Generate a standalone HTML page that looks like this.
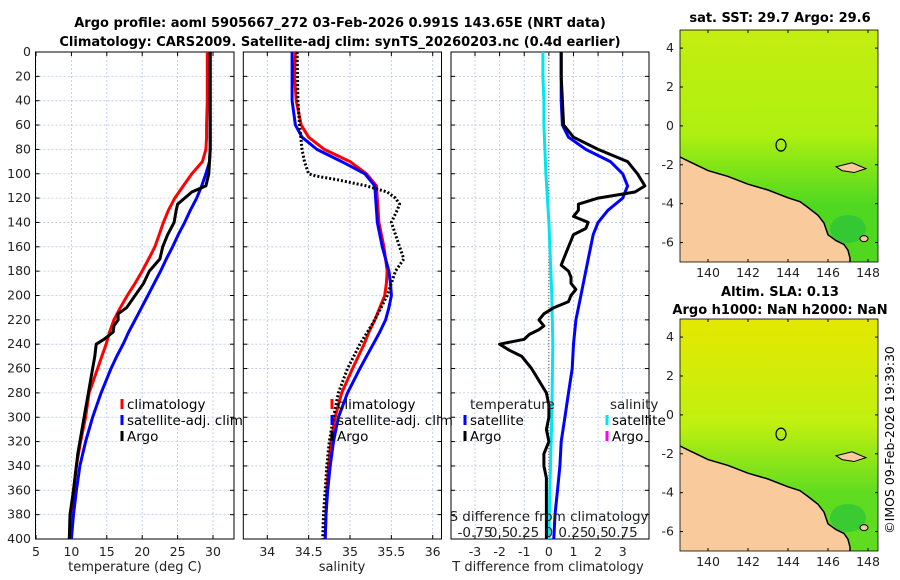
<!DOCTYPE html>
<html><head><meta charset="utf-8"><style>
html,body{margin:0;padding:0;background:#fff}
svg{display:block;font-family:"DejaVu Sans","Liberation Sans",sans-serif}
</style></head><body>
<svg id="c" width="900" height="580" viewBox="0 0 900 580" xmlns="http://www.w3.org/2000/svg">
<text x="340" y="27" font-size="13" font-weight="bold" text-anchor="middle">Argo profile: aoml 5905667_272 03-Feb-2026 0.991S 143.65E (NRT data)</text>
<text x="340" y="46" font-size="13" font-weight="bold" text-anchor="middle">Climatology: CARS2009. Satellite-adj clim: synTS_20260203.nc (0.4d earlier)</text>
<text x="780" y="22" font-size="13" font-weight="bold" text-anchor="middle">sat. SST: 29.7 Argo: 29.6</text>
<text x="780" y="296" font-size="13" font-weight="bold" text-anchor="middle">Altim. SLA: 0.13</text>
<text x="780" y="314" font-size="13" font-weight="bold" text-anchor="middle">Argo h1000: NaN h2000: NaN</text>
<text transform="translate(894,440) rotate(-90)" font-size="12.5" text-anchor="middle">©IMOS 09-Feb-2026 19:39:30</text>
</svg>
<script>
// ---- data ----
const depths = [0,20,40,60,70,80,90,100,110,120,130,140,150,160,170,180,190,200,210,220,230,240,250,260,280,300,320,340,360,380,400];
const tempClim = [29.2,29.2,29.2,29.1,29.1,29.0,28.5,27.0,25.8,24.6,23.7,23.0,22.4,21.8,20.9,20.0,19.0,17.9,16.9,16.0,15.4,14.9,14.3,13.7,12.5,12.0,11.3,10.7,10.3,10.0,9.7];
const tempSat = [29.6,29.6,29.6,29.6,29.6,29.6,29.5,29.0,28.4,27.7,26.8,26.0,25.1,24.3,23.4,22.6,21.7,20.8,19.9,19.0,18.1,17.3,16.4,15.6,14.2,13.0,12.0,11.2,10.7,10.3,10.0];
const argoDepths = [0,20,40,60,80,100,110,115,120,125,130,140,150,160,170,180,190,200,210,215,220,225,230,236,240,250,260,280,300,320,330,340,360,380,400];
const tempArgo = [29.6,29.6,29.6,29.6,29.6,29.4,29.0,27.0,26.0,25.0,24.8,24.5,23.6,22.9,22.5,21.0,20.2,19.0,17.8,16.6,16.6,16.0,15.9,14.6,13.5,13.3,13.0,12.4,11.8,11.2,10.9,10.7,10.3,9.8,9.7];
const salClim = [34.34,34.33,34.35,34.41,34.5,34.69,35.0,35.2,35.32,35.33,35.34,35.35,35.38,35.41,35.43,35.45,35.44,35.42,35.36,35.3,35.23,35.17,35.1,35.03,34.9,34.82,34.77,34.74,34.72,34.71,34.70];
const salSat = [34.3,34.3,34.3,34.34,34.42,34.6,34.9,35.18,35.3,35.31,35.32,35.33,35.36,35.39,35.43,35.47,35.49,35.5,35.47,35.43,35.36,35.28,35.2,35.12,34.97,34.86,34.8,34.76,34.73,34.71,34.7];
const salArgoDepths = [0,40,60,80,90,100,102,105,110,115,120,125,130,140,150,160,170,180,200,220,240,260,280,300,320,340,360,380,400];
const salArgo = [34.36,34.37,34.39,34.42,34.45,34.5,34.6,34.85,35.2,35.45,35.55,35.6,35.57,35.5,35.55,35.6,35.65,35.55,35.45,35.3,35.12,34.97,34.86,34.8,34.75,34.72,34.7,34.68,34.67];
const dTArgoDepths = [0,20,40,60,70,80,90,100,110,115,120,125,130,135,140,145,150,160,170,175,180,185,190,195,200,205,210,215,220,225,228,232,236,240,245,250,255,260,270,280,290,300,310,320,330,340,350,360,380,400];
const dTArgo = [0.5,0.5,0.55,0.6,1.0,2.0,3.2,3.6,3.9,3.5,2.0,1.2,1.2,1.0,1.6,1.5,1.0,0.8,0.6,0.5,0.8,0.9,0.9,1.1,0.9,0.8,0.2,-0.2,-0.4,-0.2,-0.4,-0.8,-1.0,-2.0,-1.6,-1.1,-0.9,-0.7,-0.4,-0.1,0.0,0.0,-0.1,0.0,-0.2,-0.2,-0.1,-0.1,-0.1,-0.1];
const dTDepths = [0,40,60,70,80,90,100,110,120,130,140,150,160,170,180,200,220,240,260,280,300,320,340,360,380,400];
const dTSat = [0.5,0.5,0.55,0.8,1.5,2.5,3.0,3.2,3.0,2.4,2.0,1.8,1.7,1.6,1.5,1.3,1.1,1.0,0.95,0.8,0.65,0.5,0.45,0.35,0.25,0.2];
const dSDepths = [0,20,40,60,100,140,200,240,300,360,400];
const dSSat = [-0.06,-0.06,-0.05,-0.05,-0.03,0.0,0.03,0.04,0.03,0.01,0.0];
const depthTicks = [0,20,40,60,80,100,120,140,160,180,200,220,240,260,280,300,320,340,360,380,400];
const tempTicks = [5,10,15,20,25,30];
const salTicks = [34,34.5,35,35.5,36];
const dTTicks = [-3,-2,-1,0,1,2,3];
const dSTicks = [-0.75,-0.5,-0.25,0,0.25,0.5,0.75];
const dSTickLabels = ["-0.75","0.5","0.25","0","0.25","0.5","0.75"];
const latTicks = [4,2,0,-2,-4,-6];
const lonTicks = [140,142,144,146,148];
const coastLon = [138.6,139,140,141,142,143,144,144.6,145,145.5,145.8,146,146.4,146.8,147,147.1,147.1];
const coastLat = [-1.6,-1.8,-2.3,-2.6,-3.0,-3.3,-3.7,-3.9,-4.2,-4.6,-5.0,-5.6,-5.9,-6.1,-6.4,-6.8,-7.0];

// ---- helpers ----
const svg = document.getElementById('c');
const NS = 'http://www.w3.org/2000/svg';
function mk(tag, attrs, parent){const e=document.createElementNS(NS,tag);for(const k in attrs)e.setAttribute(k,attrs[k]);(parent||svg).appendChild(e);return e;}
const yTop=52, yBot=539;
function yD(d){return yTop+(d/400)*(yBot-yTop);}
function lin(d0,d1,p0,p1){return v=>p0+(v-d0)/(d1-d0)*(p1-p0);}
const xT = lin(5,30,36,213);
const xS = lin(34,36,267.3,432.7);
const xDT = lin(-3,3,475,622.7);
const xDS = v=>xDT(v*4);
const panels=[{x0:35.5,x1:234,name:'temperature-panel'},{x0:243.3,x1:441.5,name:'salinity-panel'},{x0:451,x1:649,name:'difference-panel'}];

function frame(p, xs, ticks){
  const g=mk('g',{});
  
  
  for(const d of depthTicks){const y=yD(d);mk('line',{x1:p.x0,x2:p.x1,y1:y,y2:y,stroke:'#b8c4e8','stroke-width':0.8,'stroke-dasharray':'2,2'},g);}
  for(const t of ticks){const x=xs(t);mk('line',{x1:x,x2:x,y1:yTop,y2:yBot,stroke:'#b8c4e8','stroke-width':0.8,'stroke-dasharray':'2,2'},g);
    mk('line',{x1:x,x2:x,y1:yBot,y2:yBot-4,stroke:'#000'},g);mk('line',{x1:x,x2:x,y1:yTop,y2:yTop+4,stroke:'#000'},g);
    const tx=mk('text',{x:x,y:556,'font-size':12.5,'text-anchor':'middle',fill:'#222'},g);tx.textContent=String(t);
    
    }
  for(const d of depthTicks){const y=yD(d);mk('line',{x1:p.x0,x2:p.x0+4,y1:y,y2:y,stroke:'#000'},g);mk('line',{x1:p.x1,x2:p.x1-4,y1:y,y2:y,stroke:'#000'},g);}
  mk('rect',{x:p.x0,y:yTop,width:p.x1-p.x0,height:yBot-yTop,fill:'none',stroke:'#000','stroke-width':1},g);
  return g;
}
function line(g, xs, xsArr, ds, color, w, dash, name){
  const pts=xsArr.map((v,i)=>xs(v).toFixed(1)+','+yD(ds[i]).toFixed(1)).join(' ');
  const a={points:pts,fill:'none',stroke:color,'stroke-width':w,'stroke-linejoin':'round'};
  if(dash)a['stroke-dasharray']=dash;
  const e=mk('polyline',a,g);
  
  
}
function legend(g,x,y,color,label,name){
  mk('rect',{x:x-1.5,y:y-10,width:3,height:10,fill:color},g);
  const t=mk('text',{x:x+5,y:y,'font-size':13.5,fill:'#000'},g);t.textContent=label;
  
  
}
function text(x,y,s,anchor,size,name){const t=mk('text',{x:x,y:y,'font-size':size||13.5,'text-anchor':anchor||'start',fill:'#222'});t.textContent=s;
  
  return t;}

// depth labels
for(const d of depthTicks){const t=text(31,yD(d)+4,String(d),'end',12.5,'y-tick-label');}

// panel 1
const g1=frame(panels[0],xT,tempTicks);
line(g1,xT,tempClim,depths,'#f00',3,null,'climatology-temp-line');
line(g1,xT,tempSat,depths,'#00f',3,null,'satellite-temp-line');
line(g1,xT,tempArgo,argoDepths,'#000',3,null,'argo-temp-line');
legend(g1,122,409,'#f00','climatology','legend-climatology');
legend(g1,122,425,'#00f','satellite-adj. clim','legend-satellite');
legend(g1,122,441,'#000','Argo','legend-argo');
text(135,571,'temperature (deg C)','middle',13,'temp-x-axis-title');

// panel 2
const g2=frame(panels[1],xS,salTicks);
line(g2,xS,salClim,depths,'#f00',3,null,'climatology-sal-line');
line(g2,xS,salSat,depths,'#00f',3,null,'satellite-sal-line');
line(g2,xS,salArgo,salArgoDepths,'#000',3,'2,2','argo-sal-line');
legend(g2,332,409,'#f00','climatology','legend-climatology-sal');
legend(g2,332,425,'#00f','satellite-adj. clim','legend-satellite-sal');
legend(g2,332,441,'#000','Argo','legend-argo-sal');
text(342,571,'salinity','middle',13,'sal-x-axis-title');

// panel 3
const g3=frame(panels[2],xDT,dTTicks);
mk('line',{x1:xDT(0),x2:xDT(0),y1:yTop,y2:yBot,stroke:'#555','stroke-width':1,'stroke-dasharray':'1,2'},g3);
line(g3,xDS,dSSat,dSDepths,'#00e5ee',3,null,'satellite-sal-diff-line');
line(g3,xDT,dTSat,dTDepths,'#00f',3,null,'satellite-temp-diff-line');
line(g3,xDT,dTArgo,dTArgoDepths,'#000',3,null,'argo-temp-diff-line');
text(470,409,'temperature','start',13.5,'legend-temperature-header');
legend(g3,465,425,'#00f','satellite','legend-temp-satellite');
legend(g3,465,441,'#000','Argo','legend-temp-argo');
text(610,409,'salinity','start',13.5,'legend-salinity-header');
legend(g3,607,425,'#00e5ee','satellite','legend-sal-satellite');
legend(g3,607,441,'#f0f','Argo','legend-sal-argo');
text(549,521,'S difference from climatology','middle',13.5,'s-axis-title');
dSTicks.forEach((s,i)=>{text(xDS(s),537,dSTickLabels[i],'middle',13.5,'s-tick-label');});
text(548,571,'T difference from climatology','middle',13,'t-x-axis-title');

// maps
function map(top,name,colTop,colMid,colCoast){
  const L=680,R=878,B=top+232;
  const px=lin(138.6,148.5,L,R), py=lin(4.93,-7,top,B);
  const g=mk('g',{});
  
  
  const gid=name+'-grad';
  const defs=mk('defs',{},g);const lg=mk('linearGradient',{id:gid,x1:0,y1:0,x2:0,y2:1},defs);
  mk('stop',{offset:'0','stop-color':colTop},lg);mk('stop',{offset:'0.45','stop-color':colMid},lg);mk('stop',{offset:'0.75','stop-color':colCoast},lg);mk('stop',{offset:'1','stop-color':colCoast},lg);
  mk('rect',{x:L,y:top,width:R-L,height:B-top,fill:'url(#'+gid+')'},g);
  mk('ellipse',{cx:px(147),cy:py(-5.3),rx:18,ry:14,fill:'#22c040',opacity:0.6},g);
  let pts=coastLon.map((v,i)=>px(v).toFixed(1)+','+py(coastLat[i]).toFixed(1));
  pts.push(px(138.6).toFixed(1)+','+B);
  mk('polygon',{points:pts.join(' '),fill:'#f9cb9c',stroke:'none'},g);
  mk('polyline',{points:coastLon.map((v,i)=>px(v).toFixed(1)+','+py(coastLat[i]).toFixed(1)).join(' '),fill:'none',stroke:'#000','stroke-width':1.5},g);
  mk('path',{d:`M${px(146.4)},${py(-2.1)} L${px(147.2)},${py(-1.9)} L${px(147.9)},${py(-2.2)} L${px(147.3)},${py(-2.4)} L${px(146.7)},${py(-2.3)} Z`,fill:'#f9cb9c',stroke:'#000','stroke-width':1},g);
  mk('ellipse',{cx:px(147.8),cy:py(-5.8),rx:4,ry:3,fill:'#f9cb9c',stroke:'#000'},g);
  mk('ellipse',{cx:px(143.65),cy:py(-0.99),rx:5,ry:6,fill:'none',stroke:'#000','stroke-width':1.2},g);
  mk('rect',{x:L,y:top,width:R-L,height:B-top,fill:'none',stroke:'#000','stroke-width':0.8},g);
  for(const la of latTicks){const y=py(la);mk('line',{x1:L,x2:L+3,y1:y,y2:y,stroke:'#000'},g);mk('line',{x1:R,x2:R-3,y1:y,y2:y,stroke:'#000'},g);
    const t=mk('text',{x:L-6,y:y+4,'font-size':12.5,'text-anchor':'end',fill:'#222'},g);t.textContent=String(la);
    
    }
  for(const lo of lonTicks){const x=px(lo);mk('line',{x1:x,x2:x,y1:B,y2:B-3,stroke:'#000'},g);mk('line',{x1:x,x2:x,y1:top,y2:top+3,stroke:'#000'},g);
    const t=mk('text',{x:x,y:B+15,'font-size':12.5,'text-anchor':'middle',fill:'#222'},g);t.textContent=String(lo);
    
    }
}
map(30,'sst-map','#c4ee10','#aef010','#50d820');
map(319,'sla-map','#e4e800','#c0f010','#60dc20');
</script>
</body></html>
